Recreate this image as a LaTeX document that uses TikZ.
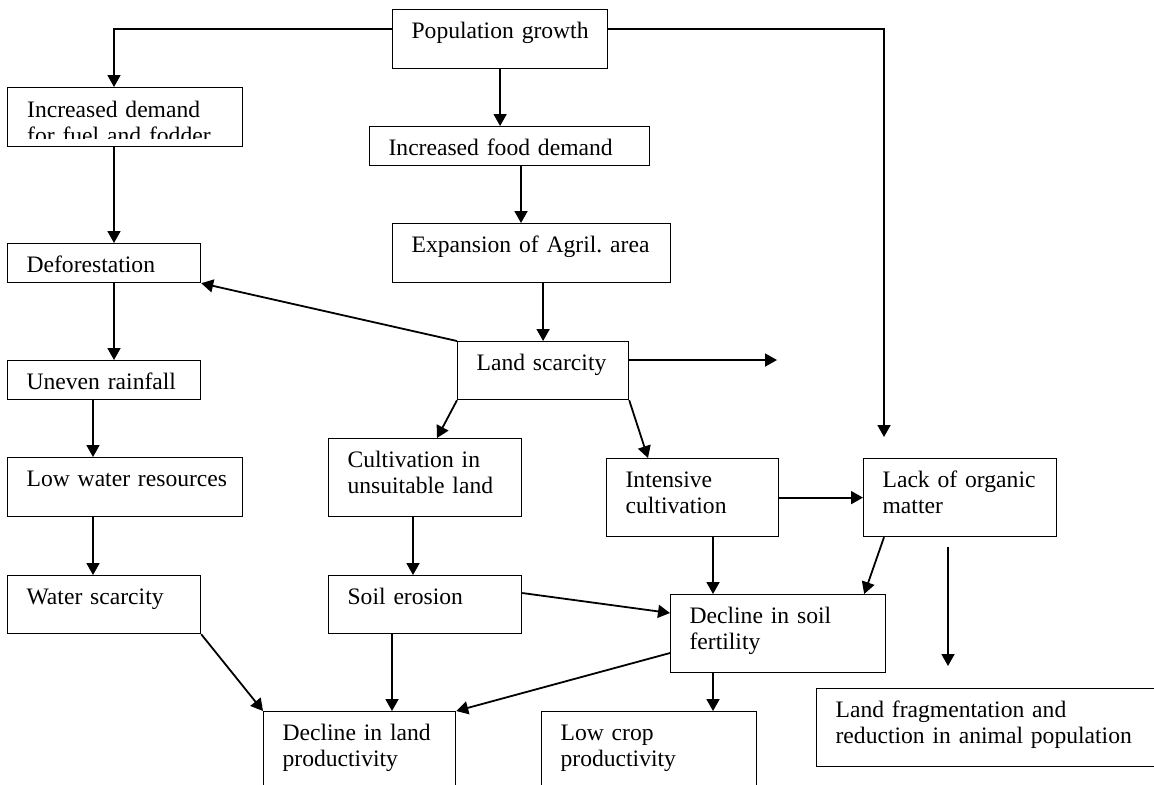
\documentclass[tikz,border=0pt]{standalone}
\usepackage{fontspec}
\setmainfont{Liberation Serif}
\usepackage{tikz}
\usetikzlibrary{arrows.meta,calc}
\tikzset{
  box/.style 2 args={draw, line width=0.6pt, anchor=north west, inner xsep=9.5pt,
    inner ysep=0pt, align=left, text width=#1, text height=14.5pt, text depth=#2},
  link/.style={line width=0.9pt, -{Triangle[length=6pt,width=6.5pt]}},
}

\begin{document}
\begin{tikzpicture}[x=0.5pt, y=-0.5pt, font=\fontsize{11.8}{13}\selectfont\frenchspacing]
  \clip (0,0) rectangle (1154,784);
  % Top of the chain
  \node[box={88.5pt}{15pt}] (pop) at (392,9) {Population growth};
  \node[box={98.5pt}{15pt}, path picture={
      \clip (path picture bounding box.north west) rectangle
        ($(path picture bounding box.south east)+(0,-8)$);
      \node[box={98.5pt}{15pt}, draw=none] (fueltext) at (path picture bounding box.north west)
        {Increased demand\\for fuel and fodder};
    }] (fuel) at (7,87) {};
  \node[box={121pt}{5pt}] (food) at (369,126) {Increased food demand};
  \node[box={120pt}{15pt}] (agri) at (392,223) {\mbox{Expansion of Agril. area}};
  % Left column
  \node[box={77.5pt}{5pt}] (defor) at (7,243) {Deforestation};
  \node[box={77.5pt}{5pt}] (rain) at (7,360) {Uneven rainfall};
  \node[box={98.5pt}{15pt}] (lowwater) at (7,457) {\mbox{Low water resources}};
  \node[box={77.5pt}{14.5pt}] (waterscar) at (7,575) {Water scarcity};
  % Middle
  \node[box={66.5pt}{14.5pt}] (land) at (457,341) {Land scarcity};
  \node[box={77.5pt}{24.5pt}] (unsuit) at (328,438) {Cultivation in\\unsuitable land};
  \node[box={67pt}{24.5pt}] (intens) at (606,458) {Intensive\\cultivation};
  \node[box={77.5pt}{24.5pt}] (organic) at (863,458) {\mbox{Lack of organic}\\matter};
  \node[box={77.5pt}{14.5pt}] (erosion) at (328,575) {Soil erosion};
  \node[box={88.5pt}{24.5pt}] (fertil) at (670,594) {Decline in soil\\fertility};
  % Bottom row
  \node[box={77pt}{35.5pt}] (landprod) at (263,711) {\mbox{Decline in land}\\productivity};
  \node[box={88.5pt}{35.5pt}] (cropprod) at (541,711) {Low crop\\productivity};
  \node[box={158pt}{24.5pt}] (frag) at (816,688) {Land fragmentation and\\reduction in animal population};
  % Free ends
  \coordinate (scarout) at (777,360);
  \coordinate (dropstart) at (948,547);
  \coordinate (dropend) at (948,666);
  % Arrows
  \draw[link] ($(pop.north west)+(0,20)$) -| ($(fuel.north west)+(107,0)$);
  \draw[link] ($(pop.north east)+(0,20)$) -| ($(organic.north west)+(21,-21)$);
  \draw[link] (pop.south) -- (pop.south |- food.north);
  \draw[link] ($(food.south west)+(152,0)$) -- ($(agri.north west)+(129,0)$);
  \draw[link] (land.north |- agri.south) -- (land.north);
  \draw[link] (land.north west) -- (defor.south east);
  \draw[link] ($(fuel.south west)+(107,0)$) -- ($(defor.north west)+(107,0)$);
  \draw[link] ($(defor.south west)+(107,0)$) -- ($(rain.north west)+(107,0)$);
  \draw[link] ($(rain.south west)+(86,0)$) -- ($(lowwater.north west)+(86,0)$);
  \draw[link] ($(lowwater.south west)+(86,0)$) -- ($(waterscar.north west)+(86,0)$);
  \draw[link] (waterscar.south east) -- (landprod.north west);
  \draw[link] (land.south west) -- ($(unsuit.north west)+(109,0)$);
  \draw[link] (land.south east) -- ($(intens.north west)+(42,0)$);
  \draw[link] ($(land.north east)+(0,19)$) -- (scarout);
  \draw[link] ($(unsuit.south west)+(85,0)$) -- ($(erosion.north west)+(85,0)$);
  \draw[link] ($(erosion.north east)+(0,18)$) -- ($(fertil.north west)+(0,19)$);
  \draw[link] ($(erosion.south west)+(64,0)$) -- ($(landprod.north west)+(129,0)$);
  \draw[link] (intens.east) -- (organic.west);
  \draw[link] ($(intens.south west)+(107,0)$) -- ($(fertil.north west)+(43,0)$);
  \draw[link] ($(organic.south west)+(21,0)$) -- ($(fertil.north east)+(-22,0)$);
  \draw[link] (dropstart) -- (dropend);
  \draw[link] ($(fertil.south west)+(43,0)$) -- ($(cropprod.north west)+(172,0)$);
  \draw[link] ($(fertil.north west)+(0,59)$) -- (landprod.north east);
\end{tikzpicture}
\end{document}
